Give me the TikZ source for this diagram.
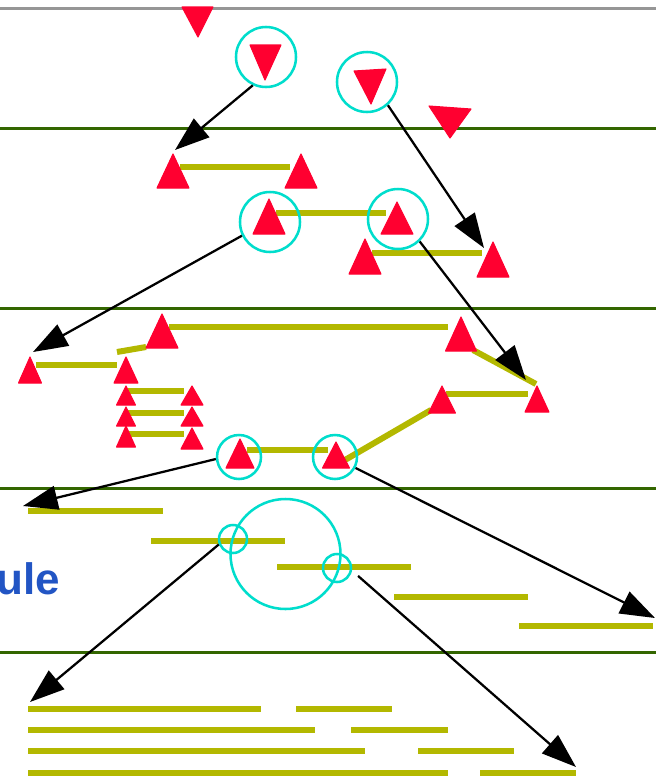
\documentclass[tikz,border=0pt]{standalone}
\usepackage{fontspec}
\newfontfamily\labelfont{Liberation Sans}
\usetikzlibrary{arrows.meta}
\definecolor{trired}{RGB}{255,0,48}
\definecolor{ringcyan}{RGB}{0,221,204}
\definecolor{barolive}{RGB}{179,184,0}
\definecolor{rowgreen}{RGB}{51,102,0}
\definecolor{labelblue}{RGB}{34,85,196}
%up triangle: apex x, apex y, width, height
\newcommand{\uptri}[4]{\filldraw[tri] (#1,#2) -- ++(-#3/2,#4) -- ++(#3,0) -- cycle;}
\tikzset{
  tri/.style={fill=trired, draw=trired, line width=0.8pt, line join=round},
  bar/.style={draw=barolive, line width=4.5pt},
  divider/.style={draw=rowgreen, line width=2.25pt},
  ring/.style={circle, draw=ringcyan, line width=1.9pt, inner sep=0pt},
  link/.style={-{Triangle[length=26pt,width=18pt]}, line width=1.7pt}
}

\begin{document}
\begin{tikzpicture}[x=0.75pt,y=0.75pt,yscale=-1,xscale=1]
\useasboundingbox (0,0) rectangle (656,776);

%Straight Lines: row dividers
\draw [draw={rgb,255:red,150;green,150;blue,150}, line width=2.25pt] (0,8) -- (656,8);
\draw [divider] (0,128) -- (656,128);
\draw [divider] (0,308) -- (656,308);
\draw [divider] (0,488) -- (656,488);
\draw [divider] (0,652) -- (656,652);

%Straight Lines: bars, row 2
\draw [bar] (180,167) -- (290,167);
\draw [bar] (276,213) -- (386,213);
\draw [bar] (372,253) -- (482,253);
%Straight Lines: bars, row 3
\draw [bar] (169,327) -- (448,327);
\draw [bar] (473,350) -- (536,384);
\draw [bar] (117,352) -- (146,347);
\draw [bar] (36,365) -- (117,365);
\draw [bar] (128,391) -- (184,391);
\draw [bar] (128,413) -- (184,413);
\draw [bar] (128,434) -- (184,434);
\draw [bar] (446,394) -- (528,394);
\draw [bar] (431,410) -- (345,460);
\draw [bar] (247,450) -- (328,450);
%Straight Lines: bars, row 4
\draw [bar] (28,511) -- (163,511);
\draw [bar] (151,541) -- (285,541);
\draw [bar] (277,567) -- (411,567);
\draw [bar] (394,597) -- (528,597);
\draw [bar] (519,626) -- (653,626);
%Straight Lines: bars, row 5
\draw [bar] (28,709) -- (261,709);
\draw [bar] (296,709) -- (392,709);
\draw [bar] (28,730) -- (315,730);
\draw [bar] (351,730) -- (448,730);
\draw [bar] (28,751) -- (365,751);
\draw [bar] (418,751) -- (514,751);
\draw [bar] (28,773) -- (448,773);
\draw [bar] (480,773) -- (576,773);

%Shape: down triangles, row 1
\filldraw [tri] (182,7) -- (213,7) -- (198,37) -- cycle;
\filldraw [tri] (250,45) -- (281,45) -- (265,80) -- cycle;
\filldraw [tri] (354,71) -- (386,69) -- (371,104) -- cycle;
\filldraw [tri] (429,106) -- (471,109) -- (450,138) -- cycle;
%Shape: up triangles, row 2
\uptri{173}{154}{32}{34}
\uptri{301}{154}{32}{34}
\uptri{269}{199}{32}{35}
\uptri{397}{202}{32}{32}
\uptri{365}{239}{32}{35}
\uptri{493}{242}{32}{35}
%Shape: up triangles, row 3
\uptri{162}{314}{32}{34}
\uptri{461}{317}{31}{34}
\uptri{30}{357}{23}{26}
\uptri{126}{357}{24}{26}
\uptri{126}{386}{19}{19}
\uptri{126}{407}{19}{19}
\uptri{126}{426}{19}{21}
\uptri{192}{386}{22}{19}
\uptri{192}{407}{22}{19}
\uptri{192}{428}{22}{21}
\uptri{442}{386}{27}{27}
\uptri{537}{386}{24}{26}
\uptri{240}{439}{28}{29}
\uptri{336}{442}{27}{26}

%Shape: Circles
\node [ring, minimum size=45pt] (c1) at (266,57) {};
\node [ring, minimum size=45pt] (c2) at (367,82) {};
\node [ring, minimum size=45pt] (c3) at (270,222) {};
\node [ring, minimum size=45pt] (c4) at (398,219) {};
\node [ring, minimum size=33pt] (c5) at (239,457) {};
\node [ring, minimum size=33pt] (c6) at (335,457) {};
\node [ring, minimum size=82.5pt] (big) at (285.5,554) {};
\node [ring, minimum size=21pt] (s1) at (233,539) {};
\node [ring, minimum size=21pt] (s2) at (337,568) {};

%arrow targets
\coordinate (t1) at (175,150);
\coordinate (t2) at (484,248);
\coordinate (t3) at (33,352);
\coordinate (t4) at (526,380);
\coordinate (t5) at (23,506);
\coordinate (t6) at (655,618);
\coordinate (t7) at (30,702);
\coordinate (t8) at (576,767);

%Straight Lines: arrows
\draw [link] (c1.-115) -- (t1);
\draw [link] (c2.-48) -- (t2);
\draw [link] (c3.-154) -- (t3);
\draw [link] (c4.-46) -- (t4);
\draw [link] (c5.-175) -- (t5);
\draw [link] (c6.-28) -- (t6);
\draw [link] (s1.-159) -- (t7);
\draw [link, shorten <=6pt] (s2.-10) -- (t8);

% Text Node
\node [anchor=base west, inner sep=0pt, text=labelblue, font=\labelfont\bfseries\fontsize{33}{40}\selectfont] (lbl) at (-4,594) {ule};

\end{tikzpicture}
\end{document}
